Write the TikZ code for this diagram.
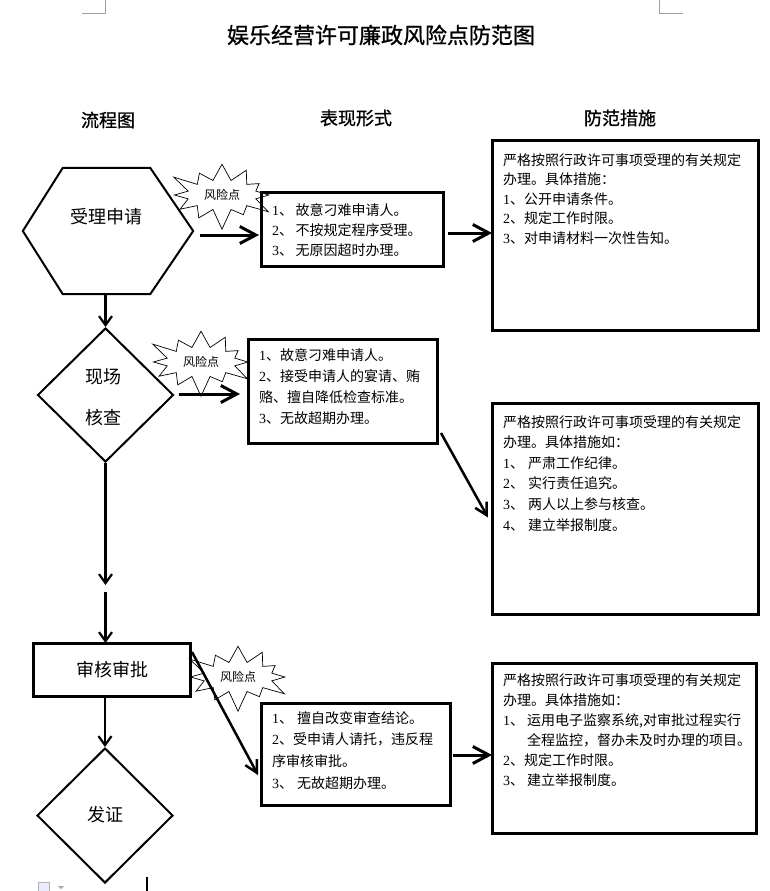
\documentclass[tikz,border=0pt]{standalone}
\usepackage{fontspec}
\newfontfamily\cjk{Noto Sans CJK SC}
\newfontfamily\cjkb[FakeBold=1]{Noto Sans CJK SC}
\newfontfamily\lsr{Liberation Serif}
\usetikzlibrary{arrows.meta,shapes.geometric,shapes.symbols}
\newcommand\dg[1]{{\lsr #1}}
\begin{document}
\begin{tikzpicture}[x=1pt,y=-1pt,
  box/.style={draw, line width=3pt, inner sep=0pt, outer sep=0pt, anchor=north west},
  txt/.style={inner sep=0pt, anchor=north west, align=left},
  flowtxt/.style={inner sep=0pt, font=\cjk\fontsize{18}{18}\selectfont},
  flowline/.style={line width=2pt, line join=miter},
  risk/.style={starburst, starburst points=12, starburst point height=22pt, random starburst=100, draw, fill=white, line width=0.7pt, inner sep=0pt, minimum width=114pt, minimum height=74pt, font=\cjk\fontsize{12}{12}\selectfont},
  arrv/.style={line width=2.2pt, -{Straight Barb[length=9pt,width=13pt]}},
  arrh/.style={line width=3pt, -{Straight Barb[length=16pt,width=17pt]}},
  arrd/.style={line width=2.5pt, -{Straight Barb[length=12pt,width=13pt]}},
  cornermark/.style={draw=black!38, line width=1pt},
  hdr/.style={inner sep=0pt, font=\cjkb\fontsize{18}{18}\selectfont}
]
\useasboundingbox[fill=white] (0,0) rectangle (770,891);

% page corner marks
\coordinate (cl1) at (105,0); \coordinate (cl2) at (105,14); \coordinate (cl3) at (82,14);
\draw[cornermark] (cl1) -- (cl2) -- (cl3);
\coordinate (cr1) at (659,0); \coordinate (cr2) at (659,14); \coordinate (cr3) at (683,14);
\draw[cornermark] (cr1) -- (cr2) -- (cr3);

% title and headers
\node[inner sep=0pt, font=\cjkb\fontsize{22}{22}\selectfont] (title) at (381,35) {娱乐经营许可廉政风险点防范图};
\node[hdr] (h1) at (108,120) {流程图};
\node[hdr] (h2) at (356,118) {表现形式};
\node[hdr] (h3) at (620,118) {防范措施};

% risk stars
\node[risk] (s1) at (222,195) {风险点};
\node[risk] (s2) at (201,362) {风险点};
\node[risk] (s3) at (238,677) {风险点};

% flow shapes
\node[minimum width=170pt, minimum height=126pt, inner sep=0pt] (hex) at (108,231) {};
\draw[flowline] (hex.west) -- ([shift={(40,0)}]hex.north west) -- ([shift={(-43,0)}]hex.north east)
  -- (hex.east) -- ([shift={(-43,0)}]hex.south east) -- ([shift={(40,0)}]hex.south west) -- cycle;
\node[flowtxt] (hext) at (106,217) {受理申请};

\node[diamond, draw, line width=2pt, minimum width=136pt, minimum height=134pt, inner sep=0pt] (d1) at (105.5,395) {};
\node[flowtxt, align=center, font=\cjk\fontsize{18}{41}\selectfont] (d1t) at (103,397.5) {现场\\核查};

\node[box, anchor=center, minimum width=157pt, minimum height=53pt] (sh) at (111.5,669.5) {};
\node[flowtxt] (sht) at (112,670) {审核审批};

\node[diamond, draw, line width=2pt, minimum width=136pt, minimum height=135pt, inner sep=0pt] (d2) at (105,815.5) {};
\node[flowtxt] (d2t) at (105,815) {发证};

% boxes
\node[box, minimum width=182pt, minimum height=74pt] (b1) at (261,192) {};
\node[txt, font=\cjk\fontsize{14}{20}\selectfont] (t1) at (272,203) {%
{\dg1}、\,故意刁难申请人。\\
{\dg2}、\,不按规定程序受理。\\
{\dg3}、\,无原因超时办理。};

\node[box, minimum width=189pt, minimum height=104pt] (b2) at (248,339) {};
\node[txt, font=\cjk\fontsize{14}{21}\selectfont] (t2) at (259,348) {%
{\dg1}、故意刁难申请人。\\
{\dg2}、接受申请人的宴请、贿\\
赂、擅自降低检查标准。\\
{\dg3}、无故超期办理。};

\node[box, minimum width=266pt, minimum height=190pt] (b3) at (492,140) {};
\node[txt, font=\cjk\fontsize{14}{19.5}\selectfont] (t3) at (503,153) {%
严格按照行政许可事项受理的有关规定\\
办理。具体措施：\\
{\dg1}、公开申请条件。\\
{\dg2}、规定工作时限。\\
{\dg3}、对申请材料一次性告知。};

\node[box, minimum width=266pt, minimum height=211pt] (b4) at (492,403) {};
\node[txt, font=\cjk\fontsize{14}{20.6}\selectfont] (t4) at (503,415) {%
严格按照行政许可事项受理的有关规定\\
办理。具体措施如：\\
{\dg1}、\hspace*{4pt}严肃工作纪律。\\
{\dg2}、\hspace*{4pt}实行责任追究。\\
{\dg3}、\hspace*{4pt}两人以上参与核查。\\
{\dg4}、\hspace*{4pt}建立举报制度。};

\node[box, minimum width=189pt, minimum height=102pt] (b5) at (261,703) {};
\node[txt, font=\cjk\fontsize{14}{21.7}\selectfont] (t5) at (272,711) {%
{\dg1}、\hspace*{4pt}擅自改变审查结论。\\
{\dg2}、受申请人请托，违反程\\
序审核审批。\\
{\dg3}、\hspace*{4pt}无故超期办理。};

\node[box, minimum width=264pt, minimum height=170pt] (b6) at (492,663) {};
\node[txt, font=\cjk\fontsize{14}{20}\selectfont] (t6) at (503,673) {%
严格按照行政许可事项受理的有关规定\\
办理。具体措施如：\\
{\dg1}、\hspace*{3pt}运用电子监察系统,对审批过程实行\\
\hspace*{24pt}全程监控，督办未及时办理的项目。\\
{\dg2}、规定工作时限。\\
{\dg3}、\hspace*{3pt}建立举报制度。};

% connectors
\draw[arrv] (d1.north |- hex.south) -- (d1.north);
\coordinate (a1) at ([shift={(7,4)}]hex.east);
\draw[arrh, shorten >=2pt] (a1) -- (a1 -| b1.west);
\coordinate (a2) at ([shift={(5,4)}]b1.east);
\draw[arrh] (a2) -- (a2 -| b3.west);
\coordinate (a3) at ([shift={(4,-1)}]d1.east);
\draw[arrh, shorten >=8pt] (a3) -- (a3 -| b2.west);
\draw[arrd] ([shift={(4,-10)}]b2.south east) -- ([shift={(-4,9)}]b4.west);
\coordinate (m1) at (105.5,585);
\coordinate (m2) at (105.5,592);
\draw[arrv] (d1.south) -- (m1);
\draw[arrv] (m2) -- (m2 |- sh.north);
\draw[arrd] ([shift={(2,9)}]sh.north east) -- ([shift={(-3,21)}]b5.west);
\coordinate (a5) at ([shift={(3,1)}]b5.east);
\draw[arrh] (a5) -- (a5 -| b6.west);
\draw[arrv] (sh.south -| d2.north) -- (d2.north);

% bottom screen artifacts
\node[draw=black!30, fill=blue!8, minimum width=11pt, minimum height=9pt, inner sep=0pt, anchor=north west] (icon) at (38,882) {};
\coordinate (ic1) at (58,886); \coordinate (ic2) at (64,886); \coordinate (ic3) at (61,889);
\fill[black!35] (ic1) -- (ic2) -- (ic3) -- cycle;
\coordinate (cur1) at (147,877); \coordinate (cur2) at (147,891);
\draw[line width=1.5pt] (cur1) -- (cur2);
\end{tikzpicture}
\end{document}
